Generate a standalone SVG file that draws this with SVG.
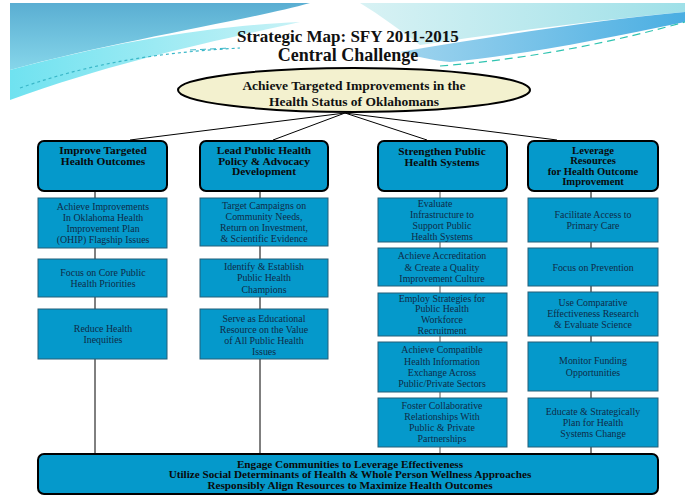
<svg xmlns="http://www.w3.org/2000/svg" width="685" height="495" viewBox="0 0 685 495">
<defs>
<linearGradient id="gA" x1="0" y1="0" x2="0" y2="1"><stop offset="0" stop-color="#5aaed2"/><stop offset="1" stop-color="#86d6ea"/></linearGradient>
<linearGradient id="gB" x1="0" y1="0" x2="1" y2="0"><stop offset="0" stop-color="#6fe2f0"/><stop offset="1" stop-color="#c8f2f6"/></linearGradient>
<linearGradient id="gC" x1="0" y1="0" x2="1" y2="0"><stop offset="0" stop-color="#d8f2f4"/><stop offset="1" stop-color="#9fe0e8"/></linearGradient>
<linearGradient id="gD" x1="0" y1="0" x2="1" y2="0"><stop offset="0" stop-color="#9fd4ee"/><stop offset="1" stop-color="#4aaee2"/></linearGradient>
<style>
.hdr{fill:#0599cb;stroke:#000;stroke-width:2}
.sub{fill:#0599cb;stroke:#245f78;stroke-width:1}
.ht{font-family:"Liberation Serif",serif;font-weight:bold;font-size:11.4px;fill:#0a0a0a;text-anchor:middle}
.h4{font-size:10.6px}
.et{font-family:"Liberation Serif",serif;font-weight:bold;font-size:13.5px;fill:#111;text-anchor:middle}
.st{font-family:"Liberation Serif",serif;font-size:9.9px;fill:#0f2b47;text-anchor:middle}
.bt{font-family:"Liberation Serif",serif;font-weight:bold;font-size:11.2px;fill:#0a0a0a;text-anchor:middle}
.tt{font-family:"Liberation Serif",serif;font-weight:bold;fill:#111;text-anchor:middle}
.ln{stroke:#000;stroke-width:1;fill:none}
</style>
</defs>
<rect width="685" height="495" fill="#fff"/>
<g id="background">
<path d="M10,3 H310 C250,20 120,40 10,70 Z" fill="url(#gA)"/>
<path d="M10,70 C120,40 220,25 300,22 C220,40 120,60 10,100 Z" fill="url(#gB)"/>
<path d="M360,3 H685 V12 C600,20 520,30 420,45 C400,30 380,15 360,3 Z" fill="url(#gC)"/>
<path d="M400,52 C500,35 600,20 685,12 V22 C600,40 520,55 450,62 C430,60 415,56 400,52 Z" fill="url(#gD)"/>
<path d="M20,88 C100,60 170,52 240,48" fill="none" stroke="#3ab7c8" stroke-width="1.2" stroke-dasharray="3,3"/>
<path d="M190,50 L230,48" fill="none" stroke="#3ab7c8" stroke-width="1" stroke-dasharray="6,4"/>
<path d="M440,66 C540,58 620,40 685,22" fill="none" stroke="#2fc3b0" stroke-width="1.2" stroke-dasharray="8,5"/>
</g>
<g id="title">
<text class="tt" x="348" y="42" style="font-size:17px">Strategic Map: SFY 2011-2015</text>
<text class="tt" x="348" y="61" style="font-size:18px">Central Challenge</text>
</g>
<g id="connectors">
<path class="ln" d="M345,113 L130,140 M345,113 L273,140 M345,113 L427,140 M345,113 L557,140"/>
<path class="ln" d="M95,191 V454 M260,191 V454 M591,191 V454"/>
<path d="M440,191 V454" stroke="#555" stroke-width="1"/>
</g>
<g id="central">
<ellipse cx="354" cy="90" rx="176" ry="22" fill="#f3f1cf" stroke="#000" stroke-width="2"/>
<text class="et" x="354" y="90">Achieve Targeted Improvements in the</text>
<text class="et" x="354" y="106">Health Status of Oklahomans</text>
</g>
<g id="c1-head"><rect class="hdr" x="38" y="141" width="129" height="50" rx="6"/>
<text class="ht" x="103" y="154">Improve Targeted</text><text class="ht" x="103" y="165">Health Outcomes</text></g>
<g id="c1-s1"><rect class="sub" x="38" y="198" width="129" height="50"/>
<text class="st" x="103" y="210">Achieve Improvements</text><text class="st" x="103" y="221">In Oklahoma Health</text><text class="st" x="103" y="232">Improvement Plan</text><text class="st" x="103" y="243">(OHIP) Flagship Issues</text></g>
<g id="c1-s2"><rect class="sub" x="38" y="259" width="129" height="38"/>
<text class="st" x="103" y="275.5">Focus on Core Public</text><text class="st" x="103" y="286.5">Health Priorities</text></g>
<g id="c1-s3"><rect class="sub" x="38" y="309" width="129" height="50"/>
<text class="st" x="103" y="331.5">Reduce Health</text><text class="st" x="103" y="342.5">Inequities</text></g>
<g id="c2-head"><rect class="hdr" x="200" y="141" width="128" height="50" rx="6"/>
<text class="ht" x="264" y="154">Lead Public Health</text><text class="ht" x="264" y="164.5">Policy &amp; Advocacy</text><text class="ht" x="264" y="175">Development</text></g>
<g id="c2-s1"><rect class="sub" x="200" y="198" width="128" height="48"/>
<text class="st" x="264" y="209">Target Campaigns  on</text><text class="st" x="264" y="220">Community Needs,</text><text class="st" x="264" y="231">Return on Investment,</text><text class="st" x="264" y="242">&amp; Scientific Evidence</text></g>
<g id="c2-s2"><rect class="sub" x="200" y="259" width="128" height="38"/>
<text class="st" x="264" y="270">Identify &amp; Establish</text><text class="st" x="264" y="281">Public Health</text><text class="st" x="264" y="292.5">Champions</text></g>
<g id="c2-s3"><rect class="sub" x="200" y="309" width="128" height="50"/>
<text class="st" x="264" y="321.5">Serve as Educational</text><text class="st" x="264" y="332.5">Resource on the Value</text><text class="st" x="264" y="344">of All Public Health</text><text class="st" x="264" y="355">Issues</text></g>
<g id="c3-head"><rect class="hdr" x="378" y="141" width="129" height="50" rx="6"/>
<text class="ht" x="442" y="154.5">Strengthen Public</text><text class="ht" x="442" y="165.5">Health Systems</text></g>
<g id="c3-s1"><rect class="sub" x="378" y="198" width="129" height="44"/>
<text class="st" x="435" y="206.5">Evaluate</text><text class="st" x="442" y="218">Infrastructure to</text><text class="st" x="442" y="229">Support Public</text><text class="st" x="442" y="240">Health Systems</text></g>
<g id="c3-s2"><rect class="sub" x="378" y="248" width="129" height="38"/>
<text class="st" x="442" y="259">Achieve Accreditation</text><text class="st" x="442" y="270.5">&amp; Create a Quality</text><text class="st" x="442" y="282">Improvement Culture</text></g>
<g id="c3-s3"><rect class="sub" x="378" y="293" width="129" height="43"/>
<text class="st" x="442" y="301.5">Employ Strategies for</text><text class="st" x="442" y="312">Public Health</text><text class="st" x="442" y="323">Workforce</text><text class="st" x="442" y="334">Recruitment</text></g>
<g id="c3-s4"><rect class="sub" x="378" y="342" width="129" height="50"/>
<text class="st" x="442" y="353">Achieve Compatible</text><text class="st" x="442" y="364.5">Health Information</text><text class="st" x="442" y="376">Exchange  Across</text><text class="st" x="442" y="387">Public/Private Sectors</text></g>
<g id="c3-s5"><rect class="sub" x="378" y="398" width="129" height="49"/>
<text class="st" x="442" y="409">Foster Collaborative</text><text class="st" x="442" y="420">Relationships With</text><text class="st" x="442" y="431">Public &amp; Private</text><text class="st" x="442" y="442">Partnerships</text></g>
<g id="c4-head"><rect class="hdr" x="528" y="141" width="130" height="50" rx="6"/>
<text class="ht h4" x="593" y="153.5">Leverage</text><text class="ht h4" x="593" y="164">Resources</text><text class="ht h4" x="593" y="174.5">for Health Outcome</text><text class="ht h4" x="593" y="185">Improvement</text></g>
<g id="c4-s1"><rect class="sub" x="528" y="198" width="130" height="44"/>
<text class="st" x="593" y="218">Facilitate Access to</text><text class="st" x="593" y="229">Primary Care</text></g>
<g id="c4-s2"><rect class="sub" x="528" y="248" width="130" height="38"/>
<text class="st" x="593" y="271">Focus on Prevention</text></g>
<g id="c4-s3"><rect class="sub" x="528" y="292" width="130" height="44"/>
<text class="st" x="593" y="306">Use Comparative</text><text class="st" x="593" y="317">Effectiveness Research</text><text class="st" x="593" y="328">&amp; Evaluate Science</text></g>
<g id="c4-s4"><rect class="sub" x="528" y="342" width="130" height="49"/>
<text class="st" x="593" y="364">Monitor Funding</text><text class="st" x="593" y="375.5">Opportunities</text></g>
<g id="c4-s5"><rect class="sub" x="528" y="398" width="130" height="49"/>
<text class="st" x="593" y="415">Educate &amp;  Strategically</text><text class="st" x="593" y="426">Plan for Health</text><text class="st" x="593" y="437">Systems Change</text></g>
<g id="foundation"><rect class="hdr" x="38" y="454" width="620" height="40" rx="6"/>
<text class="bt" x="350" y="467.5">Engage Communities to Leverage Effectiveness</text>
<text class="bt" x="350" y="478">Utilize Social Determinants of Health &amp; Whole Person Wellness Approaches</text>
<text class="bt" x="350" y="488.5">Responsibly Align Resources to Maximize Health Outcomes</text></g>
</svg>
